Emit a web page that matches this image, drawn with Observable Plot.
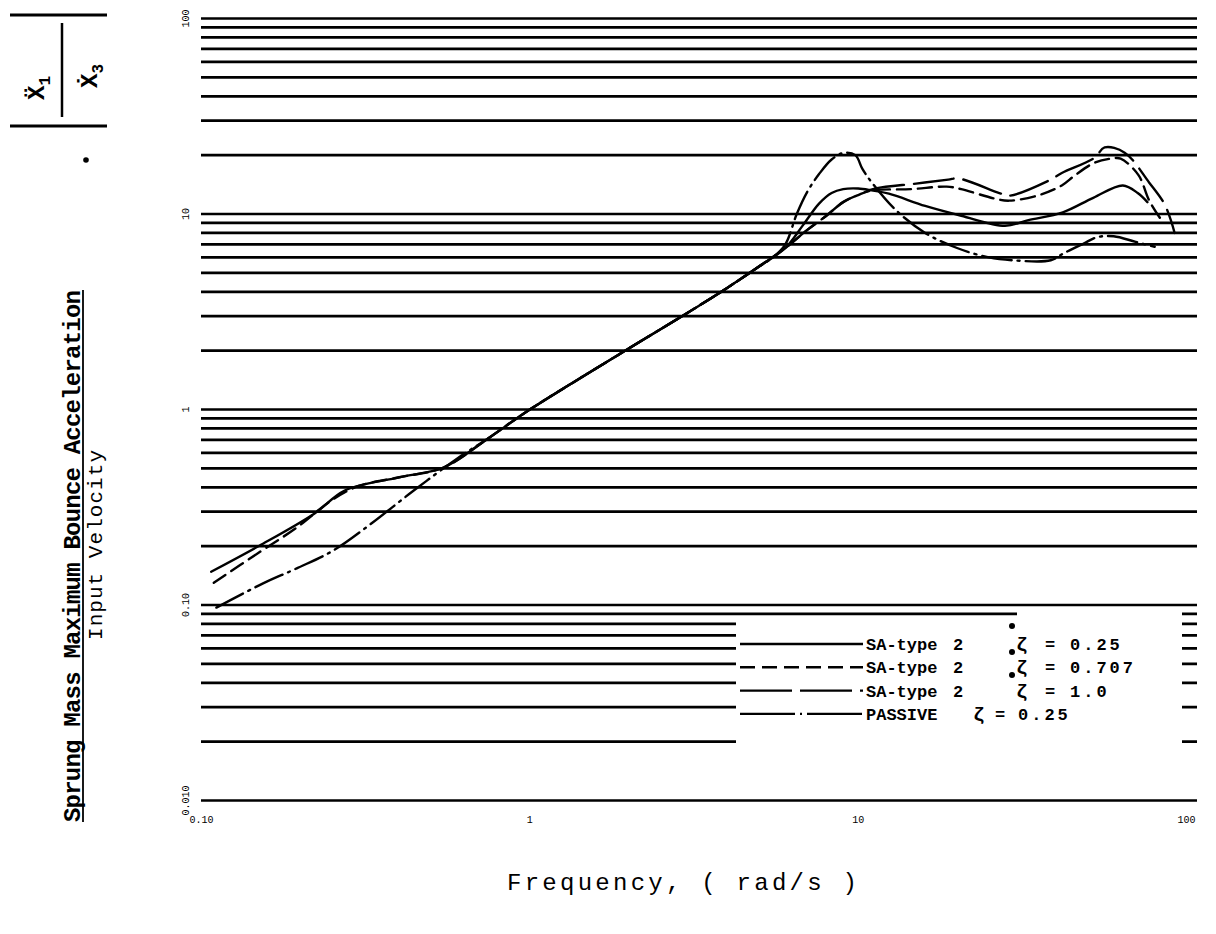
<!DOCTYPE html>
<html><head><meta charset="utf-8">
<script src="https://cdn.jsdelivr.net/npm/d3@7"></script>
<script src="https://cdn.jsdelivr.net/npm/@observablehq/plot@0.6"></script>
<style>
body{margin:0;background:#fff;}
#wrap{position:relative;width:1216px;height:934px;background:#fff;}
#ov{position:absolute;left:0;top:0;pointer-events:none;}
</style></head><body><div id="wrap"></div>
<script>
// horizontal grid values (log subdivisions)
const gridY = [0.01,0.02,0.03,0.04,0.05,0.06,0.07,0.08,0.09,
               0.1,0.2,0.3,0.4,0.5,0.6,0.7,0.8,0.9,
               1,2,3,4,5,6,7,8,9,
               10,20,30,40,50,60,70,80,90,100];
const xTicks = [0.1, 1, 10, 100];
const xTickLabels = ["0.10", "1", "10", "100"];
const yTicks = [0.01, 0.1, 1, 10, 100];
const yTickLabels = ["0.010", "0.10", "1", "10", "100"];

// SA-type 2, zeta = 0.25 (solid)
const saA_x = [0.107,0.15,0.221,0.273,0.4,0.546,0.754,1,2,3,4,5,6,6.8,7.6,8.3,9,10,11,12.4,16,20.6,28,33,42,52,64,71,76];
const saA_y = [0.148,0.201,0.294,0.385,0.45,0.505,0.72,1,2.05,3.1,4.2,5.4,6.7,8.8,11.3,12.8,13.4,13.5,13.2,12.7,11.0,9.8,8.7,9.3,10.2,12.1,14.0,12.8,11.5];
// SA-type 2, zeta = 0.707 (dashed)
const saB_x = [0.109,0.15,0.195,0.249,0.3,0.4,0.546,0.754,1,2,3,4,5,6,7,8,9,10,11,14.5,18.6,20.6,26,28.8,35.6,41.7,45.8,52.5,59,63,71.4,77,85];
const saB_y = [0.130,0.186,0.249,0.343,0.405,0.45,0.505,0.72,1,2.05,3.1,4.2,5.4,6.7,8.3,9.8,11.5,12.5,13.2,13.4,13.8,13.4,12.0,11.7,12.5,14.0,15.8,18.3,19.2,19.2,15.8,11.7,9.0];
// SA-type 2, zeta = 1.0 (long dash)
const saC_x = [1,2,3,4,5,6,7,8,9,10,11.3,15,18.8,20.2,26.9,28.8,38,41.7,52.5,56.3,64.8,76.9,86,92];
const saC_y = [1,2.05,3.1,4.2,5.4,6.7,8.3,9.8,11.5,12.5,13.5,14.3,15.0,15.2,12.8,12.4,14.8,16.2,19.4,21.9,20.6,14.5,11.1,8.0];
// PASSIVE, zeta = 0.25 (dash-dot)
const pasX = [0.111,0.154,0.195,0.252,0.325,0.443,0.6,0.754,1,2,3,4,5,5.5,6,6.5,7,7.6,8.3,9,9.8,10.3,11,13,16,20,25,29.5,38.6,42.3,48.6,53.3,60,70,80];
const pasY = [0.097,0.129,0.154,0.19,0.257,0.385,0.56,0.72,1,2.05,3.1,4.2,5.4,6.0,7.0,10,13,16,19,20.5,20,17,14.5,10.5,8,6.7,6.0,5.8,5.8,6.3,7.06,7.6,7.7,7.2,6.8];

const toRows = (xs, ys) => xs.map((x, i) => ({x, y: ys[i]}));
const lineStyle = {x: "x", y: "y", stroke: "black", strokeWidth: 2.4, curve: "catmull-rom"};

const chart = Plot.plot({
  width: 1216, height: 934,
  marginLeft: 201, marginRight: 19, marginTop: 18, marginBottom: 134,
  style: {background: "white", color: "black", fontFamily: "Liberation Mono, monospace"},
  x: {type: "log", domain: [0.1, 108], axis: null},
  y: {type: "log", domain: [0.01, 100], axis: null},
  marks: [
    Plot.ruleY(gridY, {stroke: "black", strokeWidth: 2.7}),
    Plot.line(toRows(saA_x, saA_y), {...lineStyle}),
    Plot.line(toRows(saB_x, saB_y), {...lineStyle, strokeDasharray: "14,7"}),
    Plot.line(toRows(saC_x, saC_y), {...lineStyle, strokeDasharray: "40,10"}),
    Plot.line(toRows(pasX, pasY), {...lineStyle, strokeDasharray: "30,6,2,6"}),
    Plot.text(xTicks, {x: d => d, text: (d, i) => xTickLabels[i], frameAnchor: "bottom", dy: 22, fontSize: 10}),
    Plot.text(yTicks, {y: d => d, text: (d, i) => yTickLabels[i], frameAnchor: "left", textAnchor: "middle", dx: -16, rotate: -90, fontSize: 10})
  ]
});
const wrap = document.getElementById("wrap");
wrap.appendChild(chart);

// overlay: axis titles and legend
const legendRows = [
  {dash: null, name: "SA-type", two: "2", val: "0.25"},
  {dash: "15,7", name: "SA-type", two: "2", val: "0.707"},
  {dash: "52,8", name: "SA-type", two: "2", val: "1.0"},
  {dash: "55,5,2,5", name: "PASSIVE", two: "", val: "0.25"}
];
const ns = "http://www.w3.org/2000/svg";
const ov = document.createElementNS(ns, "svg");
ov.setAttribute("id", "ov");
ov.setAttribute("width", 1216); ov.setAttribute("height", 934);
let s = "";
const F = "font-family='Liberation Mono, DejaVu Sans Mono, monospace'";
// legend box
s += `<rect x="736" y="617" width="446" height="160" fill="white"/>`;
s += `<rect x="1017" y="608" width="165" height="12" fill="white"/>`;
legendRows.forEach((r, i) => {
  const cy = 644 + i * 23.3;
  s += `<line x1="740" x2="863" y1="${cy}" y2="${cy}" stroke="black" stroke-width="2.4" ${r.dash ? `stroke-dasharray="${r.dash}"` : ""}/>`;
  const by = cy + 6;
  s += `<text x="866" y="${by}" ${F} font-size="17" font-weight="bold">${r.name}</text>`;
  if (r.two) {
    s += `<text x="953" y="${by}" ${F} font-size="17" font-weight="bold">${r.two}</text>`;
    s += `<text x="1016" y="${by}" ${F} font-size="19" font-weight="bold">ζ</text>`;
    s += `<text x="1045" y="${by}" ${F} font-size="17" font-weight="bold">=</text>`;
    s += `<text x="1070" y="${by}" ${F} font-size="17" font-weight="bold" letter-spacing="3">${r.val}</text>`;
  } else {
    s += `<text x="973" y="${by}" ${F} font-size="19" font-weight="bold">ζ</text>`;
    s += `<text x="995" y="${by}" ${F} font-size="17" font-weight="bold">=</text>`;
    s += `<text x="1018" y="${by}" ${F} font-size="17" font-weight="bold" letter-spacing="3">${r.val}</text>`;
  }
});
s += `<circle cx="1012" cy="626" r="3"/><circle cx="1012" cy="652" r="3"/><circle cx="1012" cy="675" r="3"/>`;
// x title
s += `<text x="682" y="890" text-anchor="middle" ${F} font-size="24" textLength="350" lengthAdjust="spacing">Frequency, ( rad/s )</text>`;
// y title
s += `<text transform="translate(80,556) rotate(-90)" text-anchor="middle" ${F} font-size="24" font-weight="bold" textLength="532" lengthAdjust="spacing">Sprung Mass Maximum Bounce Acceleration</text>`;
s += `<line x1="83" x2="83" y1="822" y2="290" stroke="black" stroke-width="1.8"/>`;
s += `<text transform="translate(102,545) rotate(-90)" text-anchor="middle" ${F} font-size="21" textLength="190" lengthAdjust="spacing">Input Velocity</text>`;
s += `<circle cx="86" cy="160" r="2.8"/>`;
// |X1'' / X3'| block
s += `<line x1="10" x2="107" y1="15" y2="15" stroke="black" stroke-width="3"/>`;
s += `<line x1="10" x2="107" y1="126" y2="126" stroke="black" stroke-width="3"/>`;
s += `<line x1="62" x2="62" y1="23" y2="117" stroke="black" stroke-width="2.5"/>`;
s += `<text transform="translate(44,88) rotate(-90)" text-anchor="middle" ${F} font-size="24" font-weight="bold">Ẍ<tspan dy="6" font-size="16">1</tspan></text>`;
s += `<text transform="translate(97,76) rotate(-90)" text-anchor="middle" ${F} font-size="24" font-weight="bold">Ẋ<tspan dy="6" font-size="16">3</tspan></text>`;
ov.innerHTML = s;
wrap.appendChild(ov);
</script>
</body></html>
